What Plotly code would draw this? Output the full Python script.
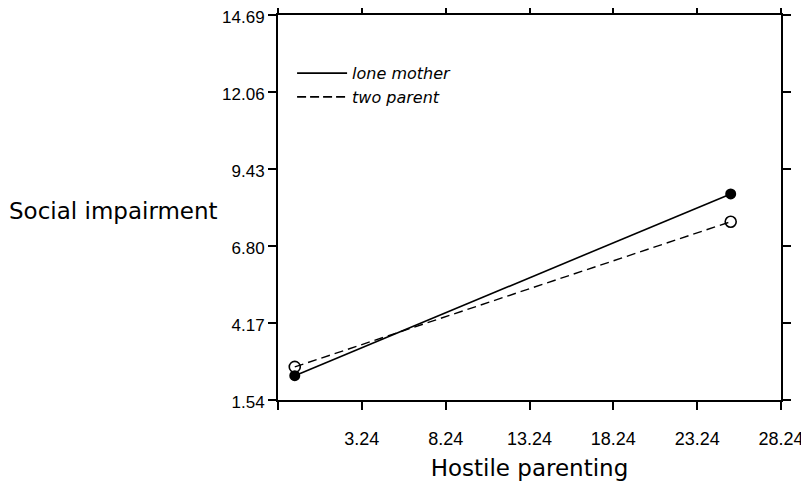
import plotly.graph_objects as go

# Data
hostile_x = [-0.76, 25.24]
lone_mother = [2.37, 8.58]
two_parent = [2.67, 7.63]
series_names = ["lone mother", "two parent"]

x_tickvals = [-1.76, 3.24, 8.24, 13.24, 18.24, 23.24, 28.24]
x_ticktext = ["", "3.24", "8.24", "13.24", "18.24", "23.24", "28.24"]
y_tickvals = [1.54, 4.17, 6.80, 9.43, 12.06, 14.69]
y_ticktext = ["1.54", "4.17", "6.80", "9.43", "12.06", "14.69"]

TICKFONT = "Liberation Sans"
FONT = "DejaVu Sans"

fig = go.Figure()
# data traces
fig.add_trace(go.Scatter(x=hostile_x, y=lone_mother, mode="lines+markers",
                         line=dict(color="black", width=1.6),
                         marker=dict(symbol="circle", size=11, color="black"),
                         showlegend=False))
fig.add_trace(go.Scatter(x=hostile_x, y=two_parent, mode="lines+markers",
                         line=dict(color="black", width=1.4, dash="9px,5px"),
                         marker=dict(symbol="circle-open", size=11, color="black",
                                     line=dict(width=1.6)),
                         showlegend=False))
# legend-only traces
fig.add_trace(go.Scatter(x=[None], y=[None], mode="lines", name=series_names[0],
                         line=dict(color="black", width=1.8)))
fig.add_trace(go.Scatter(x=[None], y=[None], mode="lines", name=series_names[1],
                         line=dict(color="black", width=1.8, dash="9px,4px")))

axis_common = dict(showline=True, linecolor="black", linewidth=2, mirror="ticks",
                   ticks="outside", ticklen=8, tickwidth=2, tickcolor="black",
                   showgrid=False, zeroline=False, automargin=False,
                   ticklabeloverflow="allow")

fig.update_xaxes(range=[-1.76, 28.24], tickvals=x_tickvals, ticktext=x_ticktext,
                 title=dict(text="Hostile parenting", font=dict(family=FONT, size=23, color="black"),
                            standoff=12),
                 ticklabelstandoff=13,
                 tickfont=dict(family=TICKFONT, size=18, color="black"),
                 **axis_common)
fig.update_yaxes(range=[1.54, 14.69], tickvals=y_tickvals, ticktext=y_ticktext,
                 ticklabelstandoff=0, ticklabelshift=2,
                 tickfont=dict(family=TICKFONT, size=17, color="black"),
                 **axis_common)

fig.add_annotation(text="Social impairment", xref="paper", yref="paper",
                   x=-0.538, y=0.491, xanchor="left", yanchor="middle",
                   showarrow=False, font=dict(family=FONT, size=23, color="black"))

fig.update_layout(
    width=801, height=479,
    margin=dict(l=270, r=28, t=7, b=87),
    paper_bgcolor="white", plot_bgcolor="white",
    legend=dict(x=0.028, y=0.893, xanchor="left", yanchor="top",
                bgcolor="rgba(0,0,0,0)", borderwidth=0,
                font=dict(family=FONT, size=16, color="black", style="italic"),
                itemwidth=50, tracegroupgap=0),
)

fig.write_html("out.html")
